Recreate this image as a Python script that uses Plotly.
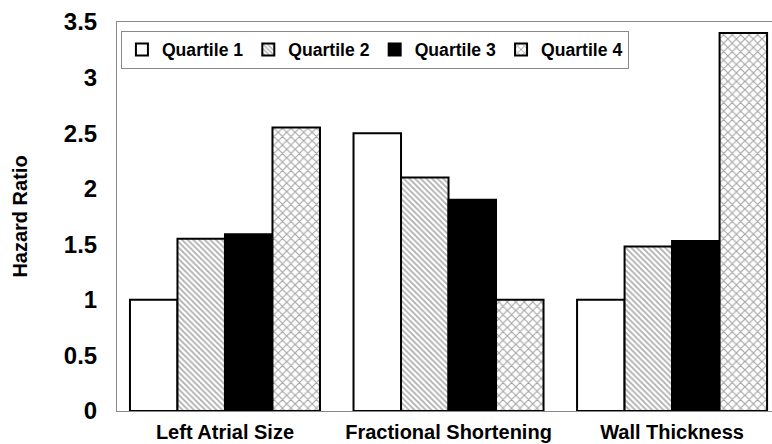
import plotly.graph_objects as go

categories = ["Left Atrial Size", "Fractional Shortening", "Wall Thickness"]
series_names = ["Quartile 1", "Quartile 2", "Quartile 3", "Quartile 4"]
q1 = [1.0, 2.5, 1.0]
q2 = [1.55, 2.1, 1.48]
q3 = [1.59, 1.9, 1.53]
q4 = [2.55, 1.0, 3.4]
y_ticks = [0, 0.5, 1, 1.5, 2, 2.5, 3, 3.5]
y_tick_labels = ["0", "0.5", "1", "1.5", "2", "2.5", "3", "3.5"]

values = [q1, q2, q3, q4]
styles = [
    dict(color="white"),
    dict(color="white", pattern=dict(shape="\\", size=4, solidity=0.45,
                                     fgcolor="#5e5e5e", bgcolor="white", fillmode="overlay")),
    dict(color="black"),
    dict(color="white", pattern=dict(shape="x", size=6, solidity=0.35,
                                     fgcolor="#4a4a4a", bgcolor="white", fillmode="overlay")),
]

fig = go.Figure()
for name, vals, st in zip(series_names, values, styles):
    fig.add_trace(go.Bar(
        x=categories, y=vals, name=name,
        marker=dict(line=dict(color="black", width=2), **st),
    ))

font_family = "Liberation Sans, Arial, sans-serif"
fig.update_layout(
    width=772, height=444,
    margin=dict(l=117, r=0, t=22, b=33, autoexpand=False),
    paper_bgcolor="white", plot_bgcolor="white",
    barmode="group", bargap=0.15, bargroupgap=0,
    font=dict(family=font_family, color="black"),
    showlegend=True,
    legend=dict(
        orientation="h", x=0.006, y=0.978, xanchor="left", yanchor="top",
        bgcolor="white", bordercolor="#888888", borderwidth=1,
        font=dict(size=17.6, family=font_family, weight="bold"),
        itemwidth=30, tracegroupgap=0,
    ),
    xaxis=dict(
        range=[-0.483, 2.447],
        showline=True, linecolor="#888888", linewidth=1, mirror=True,
        showgrid=False, ticks="",
        tickfont=dict(size=20, weight="bold"),
        ticklabelstandoff=3,
        automargin=False,
    ),
    yaxis=dict(
        range=[0, 3.5],
        tickvals=y_ticks, ticktext=y_tick_labels,
        showline=True, linecolor="#888888", linewidth=1, mirror=False,
        showgrid=False, zeroline=False, ticks="",
        tickfont=dict(size=24, weight="bold"),
        ticklabelstandoff=14,
        automargin=False,
        title=dict(text="Hazard Ratio", font=dict(size=20, weight="bold"), standoff=30),
    ),
)

fig.write_html(
    "out.html",
    config={"displayModeBar": False},
    post_script="document.body.style.margin='0';document.body.style.overflow='hidden';",
)
